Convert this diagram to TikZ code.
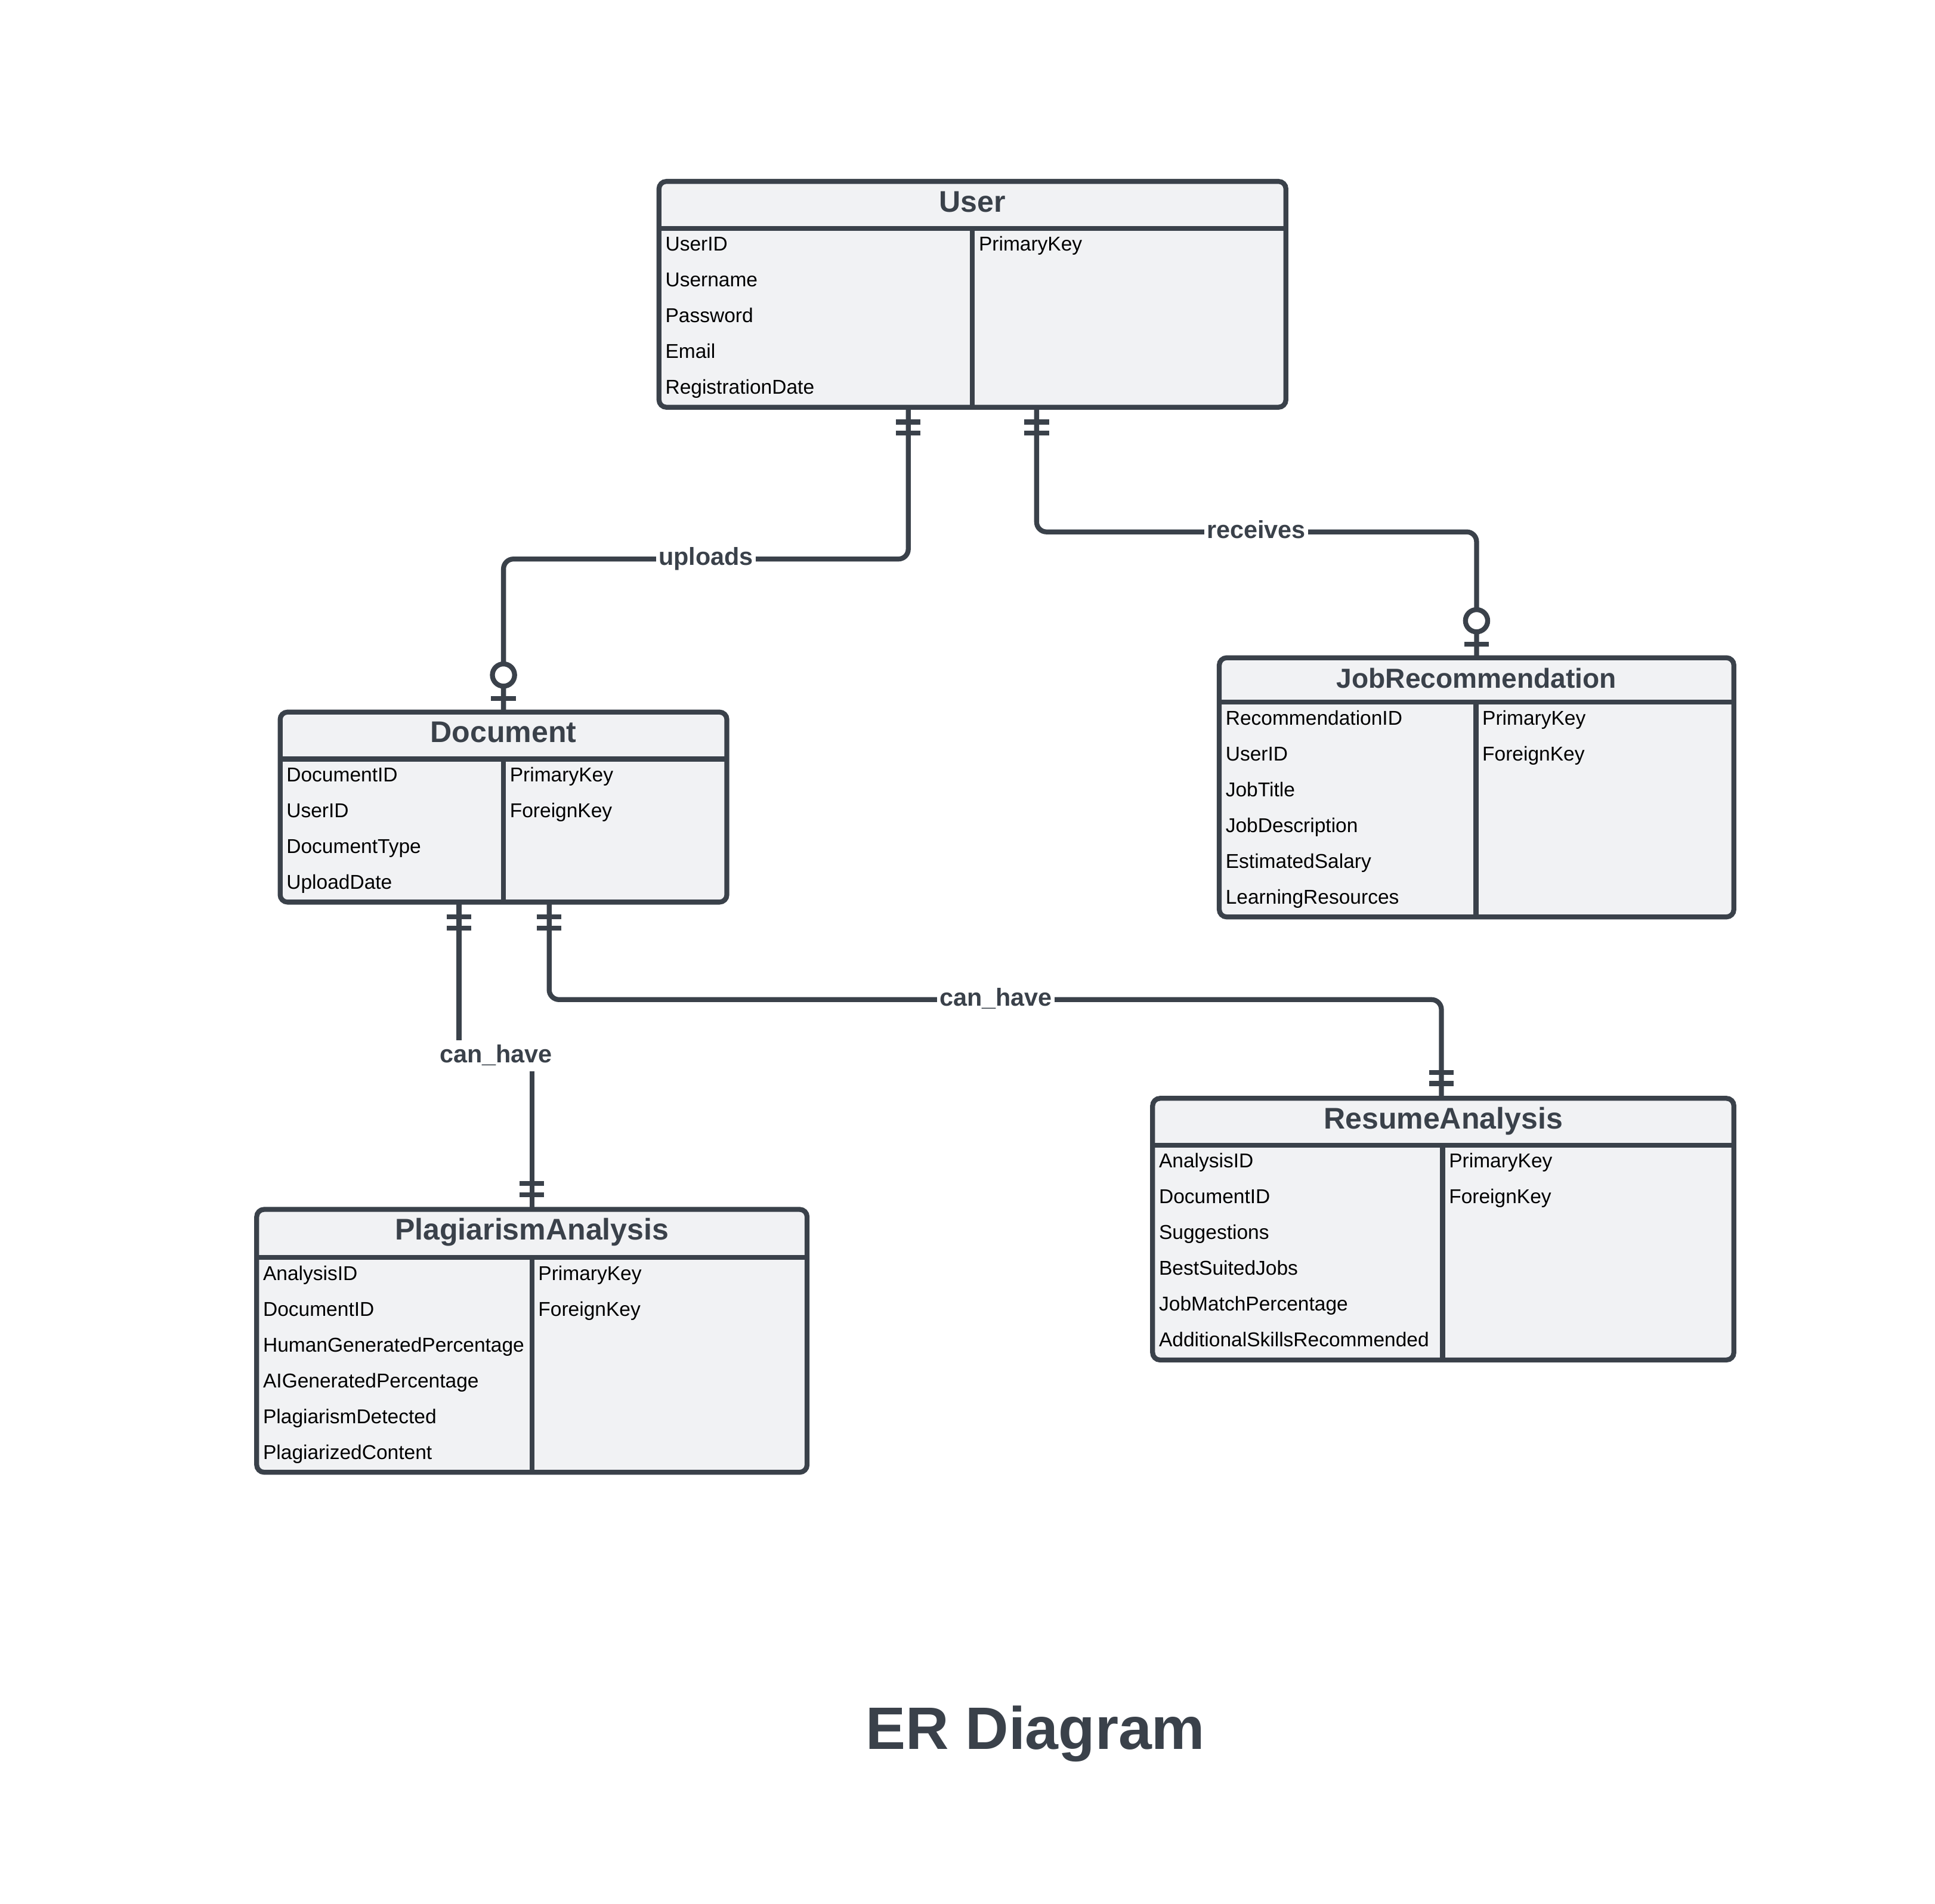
\documentclass[tikz,border=0pt]{standalone}
\usepackage{fontspec}
\setmainfont{Liberation Sans}
\usetikzlibrary{calc}
\definecolor{ink}{HTML}{3A414A}
\definecolor{boxfill}{HTML}{F1F2F4}
\def\entfs{24.2}
\tikzset{
  entbox/.style={draw=ink, fill=boxfill, line width=4pt, rounded corners=6pt, inner sep=0pt, outer sep=0pt},
  entline/.style={draw=ink, line width=4pt},
  enttitle/.style={text=ink, font=\fontsize{\entfs}{28}\selectfont\bfseries, inner sep=0pt, anchor=base},
  attr/.style={text=black, font=\fontsize{16.2}{19}\selectfont, inner sep=0pt, anchor=base west},
  rel/.style={draw=ink, line width=4pt, rounded corners=8pt},
  rellabel/.style={fill=white, text=ink, font=\fontsize{20}{24}\selectfont\bfseries, inner sep=2pt, anchor=base},
  crowbar/.style={draw=ink, line width=4pt},
  ring/.style={draw=ink, line width=4pt, fill=white},
  bigtitle/.style={text=ink, font=\fontsize{48.5}{56}\selectfont\bfseries, inner sep=0pt},
}
% name, left, top, right, bottom, header y, divider x, title, attributes
\newcommand\entity[9]{%
  \node[entbox, minimum width={(#4)-(#2)}, minimum height={(#5)-(#3)}] (#1) at ({((#2)+(#4))/2},{((#3)+(#5))/2}) {};
  \draw[entline] (#2,#6) -- (#4,#6);
  \draw[entline] (#7,#6) -- (#7,#5);
  \node[enttitle] (#1-title) at ({((#2)+(#4))/2},{(#3)+24.6}) {#8};
  \foreach \a [count=\i] in {#9} {\node[attr] (#1-a\i) at ({(#2)+5},{(#6)+18.3+29*(\i-1)}) {\a};}
}
% name, divider x, header y, keys
\newcommand\entkeys[4]{%
  \foreach \k [count=\i] in {#4} {\node[attr] (#1-k\i) at ({(#2)+5},{(#3)+18.3+29*(\i-1)}) {\k};}
}
% mandatory one: two bars near an end; #2 = +1 going down, -1 going up
\newcommand\twobar[2]{%
  \draw[crowbar] ($(#1)+(-10,{12*(#2)})$) -- ++(20,0);
  \draw[crowbar] ($(#1)+(-10,{21*(#2)})$) -- ++(20,0);
}
% zero or one at an end entering a box from above
\newcommand\zeroone[1]{%
  \draw[crowbar] ($(#1)+(-10,-11)$) -- ++(20,0);
  \draw[ring] ($(#1)+(0,-30)$) circle[radius=9pt];
}
\begin{document}
\begin{tikzpicture}[x=1pt,y=-1pt]
\fill[white] (0,0) rectangle (1568,1542.4);
\useasboundingbox (0,0) rectangle (1568,1542.4);

\entity{user}{534}{147}{1042}{330}{185}{788}{User}{UserID,Username,Password,Email,RegistrationDate}
\entkeys{user}{788}{185}{PrimaryKey}

\entity{document}{227}{577}{589}{731}{615}{408}{Document}{DocumentID,UserID,DocumentType,UploadDate}
\entkeys{document}{408}{615}{PrimaryKey,ForeignKey}

\def\entfs{22.3}
\entity{jobrec}{988}{533}{1405}{743}{569}{1196}{JobRecommendation}{RecommendationID,UserID,JobTitle,JobDescription,EstimatedSalary,LearningResources}
\entkeys{jobrec}{1196}{569}{PrimaryKey,ForeignKey}
\def\entfs{24.2}

\entity{plag}{208}{980}{654}{1193}{1019}{431}{PlagiarismAnalysis}{AnalysisID,DocumentID,HumanGeneratedPercentage,AIGeneratedPercentage,PlagiarismDetected,PlagiarizedContent}
\entkeys{plag}{431}{1019}{PrimaryKey,ForeignKey}

\entity{resume}{934}{890}{1405}{1102}{928}{1169}{ResumeAnalysis}{AnalysisID,DocumentID,Suggestions,BestSuitedJobs,JobMatchPercentage,AdditionalSkillsRecommended}
\entkeys{resume}{1169}{928}{PrimaryKey,ForeignKey}

% connector end points on the boxes
\coordinate (uA) at ($(user.south)+(-52,0)$);
\coordinate (uB) at ($(user.south)+(52,0)$);
\coordinate (dN) at (document.north);
\coordinate (jN) at (jobrec.north);
\coordinate (dA) at ($(document.south)+(-36,0)$);
\coordinate (dB) at ($(document.south)+(37,0)$);
\coordinate (pN) at (plag.north);
\coordinate (rN) at ($(resume.north)+(-1.5,0)$);

% uploads
\draw[rel] (uA) -- (uA |- 0,453) -- (dN |- 0,453) -- (dN);
\twobar{uA}{1}
\zeroone{dN}
\node[rellabel] (lupl) at (572,458) {uploads};

% receives
\draw[rel] (uB) -- (uB |- 0,431) -- (jN |- 0,431) -- (jN);
\twobar{uB}{1}
\zeroone{jN}
\node[rellabel] (lrec) at (1018,436) {receives};

% can_have (Document - PlagiarismAnalysis): the line breaks round its label
\draw[rel] (dA) -- (dA |- 0,843) (pN |- 0,868) -- (pN);
\twobar{dA}{1}
\twobar{pN}{-1}
\node[rellabel, fill=none] (lch1) at (402,861) {can\_have};

% can_have (Document - ResumeAnalysis)
\draw[rel] (dB) -- (dB |- 0,810) -- (rN |- 0,810) -- (rN);
\twobar{dB}{1}
\twobar{rN}{-1}
\node[rellabel] (lch2) at (807,815) {can\_have};

\node[bigtitle] (title) at (839,1405) {ER Diagram};
\end{tikzpicture}
\end{document}
